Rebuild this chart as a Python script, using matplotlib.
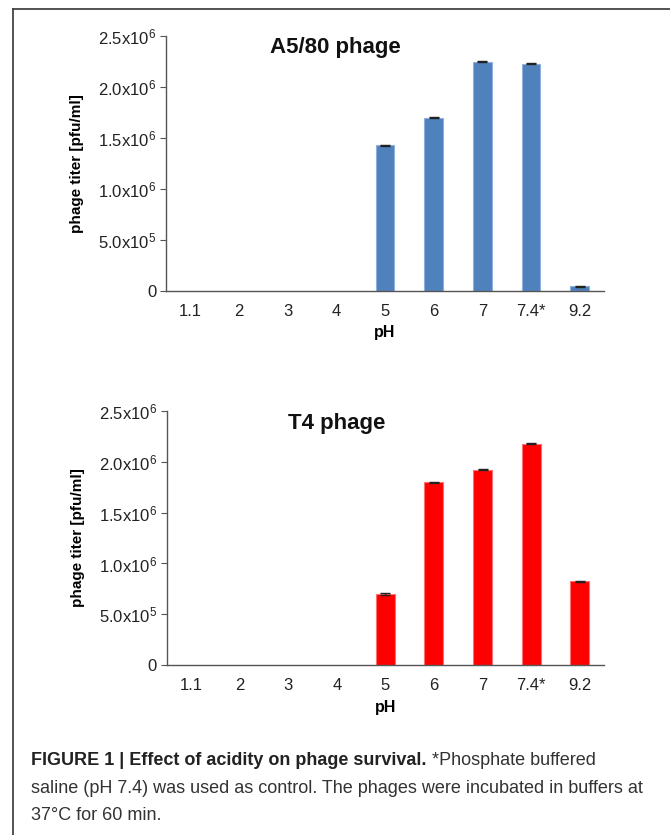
import matplotlib
matplotlib.use('Agg')
import matplotlib.pyplot as plt
from matplotlib.lines import Line2D

plt.rcParams['font.family'] = ['Liberation Sans', 'DejaVu Sans']
plt.rcParams['mathtext.default'] = 'regular'

ph_labels = ['1.1', '2', '3', '4', '5', '6', '7', '7.4*', '9.2']
a580_titer = [0, 0, 0, 0, 1.43e6, 1.70e6, 2.25e6, 2.23e6, 4.5e4]
a580_err = [0, 0, 0, 0, 6e3, 6e3, 6e3, 6e3, 6e3]
t4_titer = [0, 0, 0, 0, 7.0e5, 1.795e6, 1.92e6, 2.175e6, 8.25e5]
t4_err = [0, 0, 0, 0, 6e3, 6e3, 6e3, 6e3, 6e3]
y_ticks = [0, 5e5, 1e6, 1.5e6, 2e6, 2.5e6]
y_tick_labels = ['0', '5.0x10$^5$', '1.0x10$^6$', '1.5x10$^6$', '2.0x10$^6$', '2.5x10$^6$']

W, H = 670, 835
fig = plt.figure(figsize=(W / 100, H / 100), dpi=100)


def panel(rect, values, errs, color, edge, title, title_pos):
    ax = fig.add_axes(rect)
    x = list(range(len(ph_labels)))
    edges = [edge if v > 0 else 'none' for v in values]
    ax.bar(x, values, width=0.39, color=color, edgecolor=edges, linewidth=0.8)
    # error bars only where there is a titer
    ex = [i for i, v in zip(x, values) if v > 0]
    ev = [v for v in values if v > 0]
    ee = [e for e, v in zip(errs, values) if v > 0]
    ax.errorbar(ex, ev, yerr=ee, fmt='none', ecolor='#222222', elinewidth=0.8,
                capsize=3.5, capthick=1.0)
    ax.set_xlim(-0.5, len(ph_labels) - 0.5)
    ax.set_ylim(0, 2.5e6)
    ax.set_xticks(x)
    ax.set_xticklabels(ph_labels)
    ax.set_yticks(y_ticks)
    ax.set_yticklabels(y_tick_labels)
    for s in ['top', 'right']:
        ax.spines[s].set_visible(False)
    for s in ['left', 'bottom']:
        ax.spines[s].set_color('#555555')
        ax.spines[s].set_linewidth(1.0)
    ax.tick_params(axis='x', length=0, pad=9, labelsize=12, labelcolor='#222222')
    ax.tick_params(axis='y', length=4, width=0.8, color='#555555', pad=3,
                   labelsize=12, labelcolor='#222222')
    ax.set_xlabel('pH', fontsize=11.5, fontweight='bold', labelpad=5)
    ax.set_ylabel('phage titer [pfu/ml]', fontsize=11, fontweight='bold')
    ax.yaxis.set_label_coords(-0.187, 0.5)
    ax.text(title_pos[0], title_pos[1], title, transform=ax.transAxes, ha='center',
            va='baseline', fontsize=16, fontweight='bold', color='#111111')
    return ax


panel([166 / W, 1 - 291 / H, 438 / W, 255 / H], a580_titer, a580_err,
      '#4F81BD', '#8FB0DA', 'A5/80 phage', (0.386, 0.9345))
panel([166.7 / W, 1 - 665.3 / H, 437.3 / W, 254.6 / H], t4_titer, t4_err,
      '#FF0000', '#FF7070', 'T4 phage', (0.389, 0.929))

# frame lines (top and left)
fig.add_artist(Line2D([13 / W, 1], [1 - 8.5 / H, 1 - 8.5 / H], color='#444444', lw=1.3))
fig.add_artist(Line2D([13 / W, 13 / W], [1 - 8.5 / H, 0], color='#444444', lw=1.3))

# caption
fs = 13
t1 = fig.text(31 / W, 1 - 765 / H, 'FIGURE 1 | Effect of acidity on phage survival.',
              fontsize=fs, fontweight='bold', color='#222222', va='baseline')
fig.canvas.draw()
bb = t1.get_window_extent()
fig.text((bb.x1 + 5) / W, 1 - 765 / H, '*Phosphate buffered', fontsize=fs,
         color='#333333', va='baseline')
fig.text(31 / W, 1 - 792.7 / H,
         'saline (pH 7.4) was used as control. The phages were incubated in buffers at',
         fontsize=fs, color='#333333', va='baseline')
fig.text(31 / W, 1 - 820 / H, '37°C for 60 min.', fontsize=fs, color='#333333', va='baseline')

fig.savefig('out.png', dpi=100)
